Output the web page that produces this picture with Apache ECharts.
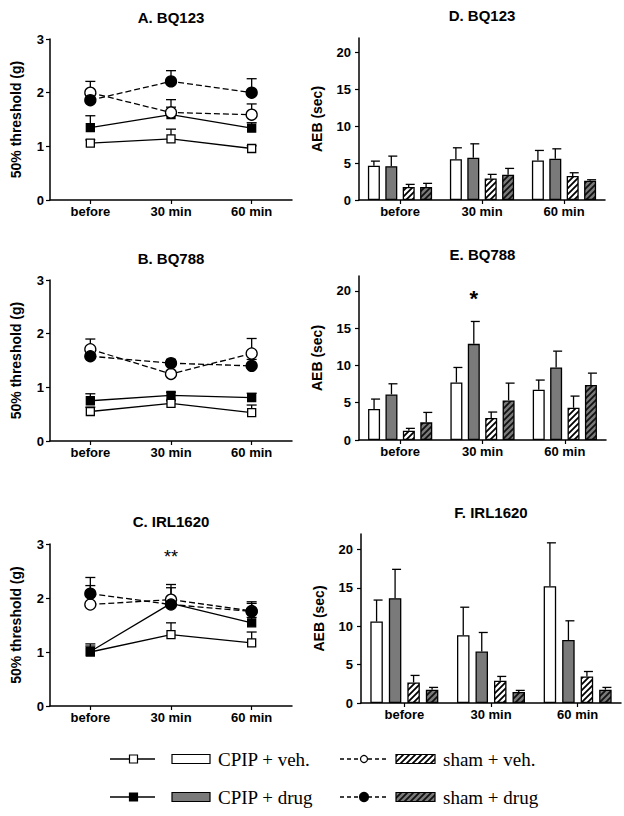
<!DOCTYPE html>
<html><head><meta charset="utf-8">
<script src="https://cdn.jsdelivr.net/npm/echarts@6/dist/echarts.min.js"></script>
<style>html,body{margin:0;padding:0;background:#fff;}#c{width:624px;height:816px;}</style>
</head><body><div id="c"></div>
<script>
// ---------- DATA ----------
const categories = ['before', '30 min', '60 min'];
const seriesNames = ['CPIP + veh.', 'CPIP + drug', 'sham + veh.', 'sham + drug'];
const panelTitles = ['A. BQ123', 'B. BQ788', 'C. IRL1620', 'D. BQ123', 'E. BQ788', 'F. IRL1620'];
const thresholdAxisName = '50% threshold (g)';
const aebAxisName = 'AEB (sec)';
const thresholdTicks = [0, 1, 2, 3];
const aebTicks = [0, 5, 10, 15, 20];

// A. BQ123 — 50% threshold (g): mean and SEM
const bq123ThrCpipVeh = [1.06, 1.14, 0.96];
const bq123ThrCpipVehSem = [0.06, 0.18, 0.05];
const bq123ThrCpipDrug = [1.35, 1.59, 1.34];
const bq123ThrCpipDrugSem = [0.22, 0.28, 0.10];
const bq123ThrShamVeh = [2.00, 1.63, 1.59];
const bq123ThrShamVehSem = [0.21, 0.10, 0.20];
const bq123ThrShamDrug = [1.86, 2.21, 2.00];
const bq123ThrShamDrugSem = [0.10, 0.20, 0.26];

// B. BQ788 — 50% threshold (g)
const bq788ThrCpipVeh = [0.55, 0.70, 0.53];
const bq788ThrCpipVehSem = [0.08, 0.05, 0.14];
const bq788ThrCpipDrug = [0.75, 0.85, 0.81];
const bq788ThrCpipDrugSem = [0.13, 0.06, 0.08];
const bq788ThrShamVeh = [1.71, 1.25, 1.63];
const bq788ThrShamVehSem = [0.19, 0.05, 0.28];
const bq788ThrShamDrug = [1.58, 1.45, 1.40];
const bq788ThrShamDrugSem = [0.10, 0.07, 0.12];

// C. IRL1620 — 50% threshold (g)
const irlThrCpipVeh = [1.00, 1.32, 1.17];
const irlThrCpipVehSem = [0.15, 0.22, 0.20];
const irlThrCpipDrug = [1.01, 1.90, 1.54];
const irlThrCpipDrugSem = [0.10, 0.10, 0.10];
const irlThrShamVeh = [1.88, 1.97, 1.76];
const irlThrShamVehSem = [0.35, 0.28, 0.17];
const irlThrShamDrug = [2.08, 1.88, 1.75];
const irlThrShamDrugSem = [0.30, 0.31, 0.15];

// D. BQ123 — AEB (sec)
const bq123AebCpipVeh = [4.65, 5.55, 5.37];
const bq123AebCpipVehSem = [0.63, 1.54, 1.36];
const bq123AebCpipDrug = [4.60, 5.73, 5.60];
const bq123AebCpipDrugSem = [1.36, 1.90, 1.35];
const bq123AebShamVeh = [1.76, 2.93, 3.25];
const bq123AebShamVehSem = [0.36, 0.55, 0.45];
const bq123AebShamDrug = [1.76, 3.43, 2.62];
const bq123AebShamDrugSem = [0.50, 0.86, 0.13];

// E. BQ788 — AEB (sec)
const bq788AebCpipVeh = [4.15, 7.72, 6.74];
const bq788AebCpipVehSem = [1.34, 2.01, 1.30];
const bq788AebCpipDrug = [6.12, 12.90, 9.73];
const bq788AebCpipDrugSem = [1.42, 3.00, 2.19];
const bq788AebShamVeh = [1.25, 2.95, 4.33];
const bq788AebShamVehSem = [0.31, 0.80, 1.56];
const bq788AebShamDrug = [2.37, 5.31, 7.37];
const bq788AebShamDrugSem = [1.33, 2.32, 1.60];

// F. IRL1620 — AEB (sec)
const irlAebCpipVeh = [10.60, 8.83, 15.20];
const irlAebCpipVehSem = [2.80, 3.64, 5.65];
const irlAebCpipDrug = [13.65, 6.70, 8.20];
const irlAebCpipDrugSem = [3.75, 2.48, 2.50];
const irlAebShamVeh = [2.68, 2.90, 3.46];
const irlAebShamVehSem = [0.91, 0.56, 0.64];
const irlAebShamDrug = [1.73, 1.43, 1.73];
const irlAebShamDrugSem = [0.30, 0.21, 0.30];

// significance marks: [panelIndex, categoryIndex, seriesIndex, yValue, text]
const sigMarks = [
  [2, 1, null, 2.76, '**'],
  [4, 1, 1, 19.0, '*']
];

// ---------- BUILD ----------
const panels = [
  { means: [bq123ThrCpipVeh, bq123ThrCpipDrug, bq123ThrShamVeh, bq123ThrShamDrug],
    sems: [bq123ThrCpipVehSem, bq123ThrCpipDrugSem, bq123ThrShamVehSem, bq123ThrShamDrugSem], kind: 'line' },
  { means: [bq788ThrCpipVeh, bq788ThrCpipDrug, bq788ThrShamVeh, bq788ThrShamDrug],
    sems: [bq788ThrCpipVehSem, bq788ThrCpipDrugSem, bq788ThrShamVehSem, bq788ThrShamDrugSem], kind: 'line' },
  { means: [irlThrCpipVeh, irlThrCpipDrug, irlThrShamVeh, irlThrShamDrug],
    sems: [irlThrCpipVehSem, irlThrCpipDrugSem, irlThrShamVehSem, irlThrShamDrugSem], kind: 'line' },
  { means: [bq123AebCpipVeh, bq123AebCpipDrug, bq123AebShamVeh, bq123AebShamDrug],
    sems: [bq123AebCpipVehSem, bq123AebCpipDrugSem, bq123AebShamVehSem, bq123AebShamDrugSem], kind: 'bar' },
  { means: [bq788AebCpipVeh, bq788AebCpipDrug, bq788AebShamVeh, bq788AebShamDrug],
    sems: [bq788AebCpipVehSem, bq788AebCpipDrugSem, bq788AebShamVehSem, bq788AebShamDrugSem], kind: 'bar' },
  { means: [irlAebCpipVeh, irlAebCpipDrug, irlAebShamVeh, irlAebShamDrug],
    sems: [irlAebCpipVehSem, irlAebCpipDrugSem, irlAebShamVehSem, irlAebShamDrugSem], kind: 'bar' }
];

const grids = [
  { left: 50, top: 39, width: 242, height: 161 },
  { left: 50, top: 280, width: 242, height: 161 },
  { left: 50, top: 544, width: 242, height: 162 },
  { left: 359, top: 38, width: 246, height: 162 },
  { left: 359, top: 276, width: 247, height: 164 },
  { left: 361, top: 534, width: 260, height: 169 }
];
const titleY = [17, 258, 521, 15, 254, 512];
const barWidths = [12, 12, 12.5];
const barGaps = [0.45, 0.45, 0.48];

const FONT = 'Liberation Sans, Arial, sans-serif';
const SERIF = 'Liberation Serif, Times New Roman, serif';
const GRAY = '#7a7a7a';

function hatch(bg, fg) {
  const s = 6;
  const c = document.createElement('canvas');
  c.width = s; c.height = s;
  const ctx = c.getContext('2d');
  ctx.fillStyle = bg; ctx.fillRect(0, 0, s, s);
  ctx.strokeStyle = fg; ctx.lineWidth = 1.8;
  ctx.beginPath();
  ctx.moveTo(0, s); ctx.lineTo(s, 0);
  ctx.moveTo(-2, 2); ctx.lineTo(2, -2);
  ctx.moveTo(s - 2, s + 2); ctx.lineTo(s + 2, s - 2);
  ctx.stroke();
  return { image: c.toDataURL(), repeat: 'repeat', imageWidth: s, imageHeight: s };
}
const barFills = ['#ffffff', GRAY, hatch('#ffffff', '#000000'), hatch(GRAY, '#111111')];

const xAxes = [], yAxes = [], series = [];
panels.forEach((p, pi) => {
  const isBar = p.kind === 'bar';
  xAxes.push({
    type: 'category', gridIndex: pi, data: categories, boundaryGap: true,
    axisLine: { show: true, lineStyle: { color: '#000', width: 1.5 } },
    axisTick: { show: true, alignWithLabel: true, length: 4, lineStyle: { color: '#000', width: 1.2 } },
    axisLabel: { color: '#000', fontFamily: FONT, fontWeight: 'bold', fontSize: 13, margin: 5 },
    splitLine: { show: false }
  });
  yAxes.push({
    type: 'value', gridIndex: pi, min: 0, max: isBar ? 22 : 3, interval: isBar ? 5 : 1,
    name: isBar ? aebAxisName : thresholdAxisName, nameLocation: 'middle',
    nameGap: isBar ? 35 : 27,
    nameTextStyle: { color: '#000', fontFamily: FONT, fontWeight: 'bold', fontSize: 14 },
    axisLine: { show: true, lineStyle: { color: '#000', width: 1.5 } },
    axisTick: { show: true, length: 4, lineStyle: { color: '#000', width: 1.2 },
      customValues: isBar ? aebTicks : thresholdTicks },
    axisLabel: { color: '#000', fontFamily: FONT, fontWeight: 'bold', fontSize: 13,
      margin: isBar ? 8 : 6, customValues: isBar ? aebTicks : thresholdTicks },
    splitLine: { show: false }
  });

  const bw = isBar ? barWidths[pi - 3] : 0;
  const bg = isBar ? barGaps[pi - 3] : 0;
  p.means.forEach((vals, si) => {
    if (isBar) {
      series.push({
        type: 'bar', name: seriesNames[si], xAxisIndex: pi, yAxisIndex: pi, data: vals,
        barWidth: bw, barGap: (bg * 100) + '%',
        itemStyle: { color: barFills[si], borderColor: '#000', borderWidth: 1.3 },
        z: 2, silent: true
      });
    } else {
      series.push({
        type: 'line', name: seriesNames[si], xAxisIndex: pi, yAxisIndex: pi, data: vals,
        symbol: si < 2 ? 'rect' : 'circle', symbolSize: si < 2 ? 8 : 11, showAllSymbol: true,
        lineStyle: { color: '#000', width: 1.3, type: si < 2 ? 'solid' : [6, 3] },
        itemStyle: { color: si % 2 === 0 ? '#fff' : '#000', borderColor: '#000', borderWidth: 1.3 },
        z: 3, silent: true
      });
    }
    // error bars (upper)
    const off = isBar ? (si - 1.5) * (bw + bw * bg) : 0;
    series.push({
      type: 'custom', xAxisIndex: pi, yAxisIndex: pi, silent: true, z: isBar ? 1 : 2,
      data: vals.map((v, ci) => [ci, v, p.sems[si][ci]]),
      renderItem: (params, api) => {
        const c = api.value(0), m = api.value(1), e = api.value(2);
        const a = api.coord([c, m]), b = api.coord([c, m + e]);
        const x = a[0] + off;
        const capL = isBar ? 3 : 5, capR = isBar ? 6 : 5;
        const st = { stroke: '#000', lineWidth: 1.3, fill: null };
        return { type: 'group', children: [
          { type: 'line', shape: { x1: x, y1: a[1], x2: x, y2: b[1] }, style: st },
          { type: 'line', shape: { x1: x - capL, y1: b[1], x2: x + capR, y2: b[1] }, style: st }
        ] };
      }
    });
  });
});

// titles
const graphics = panelTitles.map((t, i) => ({
  type: 'text', silent: true,
  x: grids[i].left + grids[i].width / 2, y: titleY[i],
  style: { text: t, fill: '#000', font: 'bold 15px ' + FONT, textAlign: 'center', textVerticalAlign: 'middle' }
}));

// legend (drawn)
const legRows = [759, 797];
[0, 1].forEach(r => {
  const y = legRows[r];
  graphics.push({ type: 'line', silent: true, shape: { x1: 110, y1: y, x2: 155, y2: y }, style: { stroke: '#000', lineWidth: 1.3 } });
  graphics.push({ type: 'rect', silent: true, shape: { x: 129.5, y: y - 4, width: 8, height: 8 },
    style: { fill: r === 0 ? '#fff' : '#000', stroke: '#000', lineWidth: 1.2 } });
  graphics.push({ type: 'rect', silent: true, shape: { x: 172, y: y - 4.5, width: 38, height: 9 },
    style: { fill: barFills[r], stroke: '#000', lineWidth: 1.2 } });
  graphics.push({ type: 'text', silent: true, x: 218, y: y,
    style: { text: seriesNames[r], fill: '#000', font: '19px ' + SERIF, textVerticalAlign: 'middle' } });
  graphics.push({ type: 'line', silent: true, shape: { x1: 340, y1: y, x2: 388, y2: y },
    style: { stroke: '#000', lineWidth: 1.3, lineDash: [4, 3] } });
  graphics.push({ type: 'circle', silent: true, shape: { cx: 364, cy: y, r: r === 0 ? 3.5 : 4.5 },
    style: { fill: r === 0 ? '#fff' : '#000', stroke: '#000', lineWidth: 1.2 } });
  graphics.push({ type: 'rect', silent: true, shape: { x: 396, y: y - 4.5, width: 39, height: 9 },
    style: { fill: barFills[2 + r], stroke: '#000', lineWidth: 1.2 } });
  graphics.push({ type: 'text', silent: true, x: 443, y: y,
    style: { text: seriesNames[2 + r], fill: '#000', font: '19px ' + SERIF, textVerticalAlign: 'middle' } });
});

const chart = echarts.init(document.getElementById('c'), null, { renderer: 'svg', width: 624, height: 816 });
const option = {
  animation: false,
  backgroundColor: '#fff',
  grid: grids.map(g => Object.assign({ containLabel: false }, g)),
  xAxis: xAxes, yAxis: yAxes, series: series, graphic: graphics
};
chart.setOption(option);

// significance marks positioned through the axes
const sigGraphics = sigMarks.map(([pi, ci, si, val, txt]) => {
  const pt = chart.convertToPixel({ gridIndex: pi }, [ci, val]);
  let dx = 0;
  if (si !== null && panels[pi].kind === 'bar') {
    const bw = barWidths[pi - 3], bg = barGaps[pi - 3];
    dx = (si - 1.5) * (bw + bw * bg);
  }
  return { type: 'text', silent: true, x: pt[0] + dx, y: pt[1],
    style: { text: txt, fill: '#000', font: (txt.length > 1 ? '18px ' : 'bold 22px ') + FONT,
      textAlign: 'center', textVerticalAlign: 'middle' } };
});
chart.setOption({ graphic: graphics.concat(sigGraphics) });
</script></body></html>
